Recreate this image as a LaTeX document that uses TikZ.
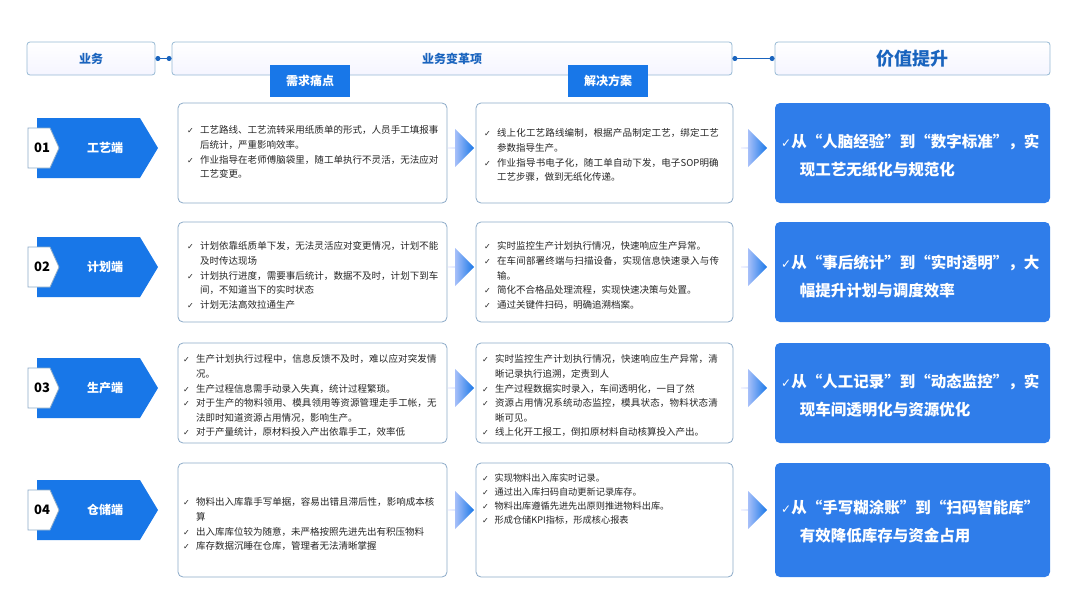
\documentclass[tikz,border=0pt]{standalone}
\usepackage{fontspec}
\setmainfont{Noto Sans CJK SC}
\newfontfamily\symf{DejaVu Sans}
\XeTeXlinebreaklocale "zh"
\XeTeXlinebreakskip=0pt plus 1pt
\usetikzlibrary{arrows.meta,shapes.arrows}
\definecolor{mblue}{RGB}{24,119,232}
\definecolor{vblue}{RGB}{47,125,234}
\definecolor{hblue}{RGB}{26,100,190}
\definecolor{hbord}{RGB}{150,185,212}
\definecolor{bbord}{RGB}{140,170,200}
\newcommand\itm[1]{\par\hangindent=1.35em\hangafter=1\noindent\makebox[1.35em][l]{\symf\fontsize{8}{8}\selectfont ✓}#1\par}
\tikzset{
 hdr/.style={draw=hbord,rounded corners=3pt,top color=white,bottom color=blue!4,line width=0.8pt},
 tag/.style={fill=mblue,text=white,font=\bfseries\fontsize{12}{12}\selectfont,minimum width=80pt,minimum height=32pt,inner sep=0pt},
 box/.style={draw=bbord,rounded corners=5pt,line width=0.8pt,fill=white,inner sep=0pt},
 btxt/.style={text width=#1,align=left,font=\fontsize{9.5}{14.6}\selectfont,text=black!85,inner sep=0pt},
 val/.style={fill=vblue,rounded corners=5pt,inner sep=0pt},
 vtxt/.style={text width=262pt,align=left,font=\bfseries\fontsize{15.5}{28}\selectfont,text=white,inner sep=0pt},
 sarr/.style={single arrow,single arrow head extend=9pt,minimum width=38pt,minimum height=26pt,single arrow tip angle=90,inner sep=0pt,left color=blue!15,right color=mblue},
 dot/.style={{Circle[length=5pt]}-{Circle[length=5pt]},draw=hblue,line width=0.9pt},
}
\begin{document}
\begin{tikzpicture}[x=1pt,y=-1pt]
\useasboundingbox (0,0) rectangle (1080,608);
% headers
\node[hdr,minimum width=128pt,minimum height=33pt] (h1) at (91,58.5) {};
\node[font=\bfseries\fontsize{12}{12}\selectfont,text=hblue] (h1t) at (h1) {业务};
\node[hdr,minimum width=560pt,minimum height=33pt] (h2) at (452,58.5) {};
\node[font=\bfseries\fontsize{12}{12}\selectfont,text=hblue] (h2t) at (h2) {业务变革项};
\node[hdr,minimum width=275pt,minimum height=33pt] (h3) at (912.5,58.5) {};
\node[font=\bfseries\fontsize{18}{18}\selectfont,text=hblue] (h3t) at (h3) {价值提升};
\draw[dot] (h1.east) -- (h2.west);
\draw[dot] (h2.east) -- (h3.west);
\node[tag] (t1) at (310,81) {需求痛点};
\node[tag] (t2) at (608,81) {解决方案};
% rows
\foreach \i/\cy/\h/\num/\name in {1/153/100/01/工艺端,2/272/100/02/计划端,3/393/100/03/生产端,4/520/114/04/仓储端}{
  \pgfmathsetmacro\cc{\i==4 ? 510 : \cy-5}
  \fill[mblue] (37,\cc-30) -- (140,\cc-30) -- (158,\cc) -- (140,\cc+30) -- (37,\cc+30) -- cycle;
  \filldraw[fill=white,draw=bbord,line width=0.8pt] (28,\cc-20) -- (50,\cc-20) -- (59,\cc) -- (50,\cc+20) -- (28,\cc+20) -- cycle;
  \node[font=\bfseries\fontsize{13}{13}\selectfont] (n\i) at (42,\cc) {\num};
  \node[font=\bfseries\fontsize{12}{12}\selectfont,text=white] (c\i) at (105,\cc) {\name};
  \node[box,minimum width=269pt,minimum height=\h pt] (p\i) at (312.5,\cy) {};
  \node[box,minimum width=257pt,minimum height=\h pt] (s\i) at (604.5,\cy) {};
  \node[val,minimum width=275pt,minimum height=\h pt] (v\i) at (912.5,\cy) {};
  \node[sarr] (a\i) at (461,\cc) {};
  \node[sarr] (b\i) at (754,\cc) {};
}
% pain texts
\node[btxt=252pt,anchor=north west] (pt1) at (187,119) {\itm{工艺路线、工艺流转采用纸质单的形式，人员手工填报事后统计，严重影响效率。}\itm{作业指导在老师傅脑袋里，随工单执行不灵活，无法应对工艺变更。}};
\node[btxt=252pt,anchor=north west] (pt2) at (187,235) {\itm{计划依靠纸质单下发，无法灵活应对变更情况，计划不能及时传达现场}\itm{计划执行进度，需要事后统计，数据不及时，计划下到车间，不知道当下的实时状态}\itm{计划无法高效拉通生产}};
\node[btxt=256pt,anchor=north west] (pt3) at (183,348) {\itm{生产计划执行过程中，信息反馈不及时，难以应对突发情况。}\itm{生产过程信息需手动录入失真，统计过程繁琐。}\itm{对于生产的物料领用、模具领用等资源管理走手工帐，无法即时知道资源占用情况，影响生产。}\itm{对于产量统计，原材料投入产出依靠手工，效率低}};
\node[btxt=252pt,anchor=north west] (pt4) at (183,491) {\itm{物料出入库靠手写单据，容易出错且滞后性，影响成本核算}\itm{出入库库位较为随意，未严格按照先进先出有积压物料}\itm{库存数据沉睡在仓库，管理者无法清晰掌握}};
% solution texts
\node[btxt=238pt,anchor=north west] (st1) at (484,122) {\itm{线上化工艺路线编制，根据产品制定工艺，绑定工艺参数指导生产。}\itm{作业指导书电子化，随工单自动下发，电子SOP明确工艺步骤，做到无纸化传递。}};
\node[btxt=238pt,anchor=north west] (st2) at (484,235) {\itm{实时监控生产计划执行情况，快速响应生产异常。}\itm{在车间部署终端与扫描设备，实现信息快速录入与传输。}\itm{简化不合格品处理流程，实现快速决策与处置。}\itm{通过关键件扫码，明确追溯档案。}};
\node[btxt=240pt,anchor=north west] (st3) at (482,348) {\itm{实时监控生产计划执行情况，快速响应生产异常，清晰记录执行追溯，定责到人}\itm{生产过程数据实时录入，车间透明化，一目了然}\itm{资源占用情况系统动态监控，模具状态，物料状态清晰可见。}\itm{线上化开工报工，倒扣原材料自动核算投入产出。}};
\node[btxt=240pt,anchor=north west,font=\fontsize{9.2}{14}\selectfont] (st4) at (482,467) {\itm{实现物料出入库实时记录。}\itm{通过出入库扫码自动更新记录库存。}\itm{物料出库遵循先进先出原则推进物料出库。}\itm{形成仓储KPI指标，形成核心报表}};
% value texts
\node[vtxt,anchor=west] (vt1) at (781,156) {{\symf\mdseries\fontsize{12}{12}\selectfont ✓}从“人脑经验”到“数字标准”，实\par\hspace*{1.2em}现工艺无纸化与规范化};
\node[vtxt,anchor=west] (vt2) at (781,277) {{\symf\mdseries\fontsize{12}{12}\selectfont ✓}从“事后统计”到“实时透明”，大\par\hspace*{1.2em}幅提升计划与调度效率};
\node[vtxt,anchor=west] (vt3) at (781,396) {{\symf\mdseries\fontsize{12}{12}\selectfont ✓}从“人工记录”到“动态监控”，实\par\hspace*{1.2em}现车间透明化与资源优化};
\node[vtxt,anchor=west] (vt4) at (781,522) {{\symf\mdseries\fontsize{12}{12}\selectfont ✓}从“手写糊涂账”到“扫码智能库”\par\hspace*{1.2em}有效降低库存与资金占用};
\end{tikzpicture}
\end{document}
